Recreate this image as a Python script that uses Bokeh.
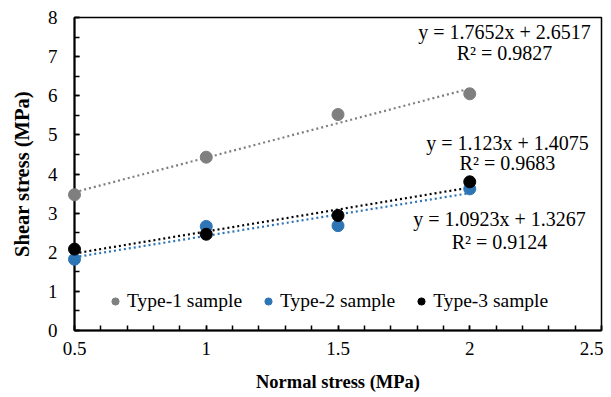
import numpy as np
from bokeh.plotting import figure
from bokeh.models import (Range1d, SingleIntervalTicker, Label, Legend, LegendItem)
from bokeh.embed import file_html
from bokeh.resources import INLINE

# ---- data ----
normal_stress = [0.5, 1.0, 1.5, 2.0]
type1 = [3.47, 4.43, 5.52, 6.05]
type2 = [1.82, 2.66, 2.68, 3.62]
type3 = [2.08, 2.46, 2.94, 3.80]

series_names = ["Type-1 sample", "Type-2 sample", "Type-3 sample"]
series_values = [type1, type2, type3]
series_colors = ["#7F7F7F", "#2E75B6", "#000000"]

# trendline equations as printed in the chart
slopes = [1.7652, 1.0923, 1.123]
intercepts = [2.6517, 1.3267, 1.4075]
r_squared = [0.9827, 0.9124, 0.9683]

FONT = "Liberation Serif"

p = figure(width=603, height=394, output_backend="svg", toolbar_location=None,
           x_range=Range1d(0.5, 2.5), y_range=Range1d(0, 8),
           min_border_left=74, min_border_right=2, min_border_top=17, min_border_bottom=10,
           background_fill_color="white", border_fill_color="white")

p.xgrid.visible = False
p.ygrid.visible = False
p.outline_line_color = "black"
p.outline_line_width = 1.5

p.xaxis.ticker = SingleIntervalTicker(interval=0.5, num_minor_ticks=5)
p.yaxis.ticker = SingleIntervalTicker(interval=1, num_minor_ticks=2)

for ax in (p.xaxis, p.yaxis):
    ax.axis_line_color = "black"
    ax.axis_line_width = 2
    ax.major_tick_line_color = "black"
    ax.minor_tick_line_color = "black"
    ax.major_tick_line_width = 1.5
    ax.minor_tick_line_width = 1.5
    ax.major_tick_in = 5
    ax.major_tick_out = 0
    ax.minor_tick_in = 5
    ax.minor_tick_out = 0
    ax.major_label_text_font = FONT
    ax.major_label_text_font_size = "19px"
    ax.major_label_text_color = "black"
    ax.axis_label_text_font = FONT
    ax.axis_label_text_font_style = "bold"
    ax.axis_label_text_color = "black"

p.xaxis.axis_label = "Normal stress (MPa)"
p.yaxis.axis_label = "Shear stress (MPa)"
p.xaxis.axis_label_text_font_size = "18.5px"
p.yaxis.axis_label_text_font_size = "20.5px"
p.xaxis.major_label_standoff = 11
p.xaxis.axis_label_standoff = 14
p.yaxis.major_label_standoff = 17
p.yaxis.axis_label_standoff = 12

x = np.array(normal_stress)
legend_items = []
for name, vals, col, m, b in zip(series_names, series_values, series_colors, slopes, intercepts):
    xs = [x.min(), x.max()]
    p.line(xs, [m * v + b for v in xs], line_color=col, line_width=2.2, line_dash="2 3")
    p.scatter(normal_stress, vals, size=12, fill_color=col, line_color=col, level="overlay")
    dummy = p.scatter([np.nan], [np.nan], size=12, fill_color=col, line_color=col)
    legend_items.append(LegendItem(label=name, renderers=[dummy]))

legend = Legend(items=legend_items, orientation="horizontal", location=(32, 18),
                border_line_color=None, background_fill_alpha=0,
                label_text_font=FONT, label_text_font_size="19.5px", label_text_color="black",
                glyph_width=18, glyph_height=18, label_standoff=3, spacing=17,
                padding=0, margin=0)
p.add_layout(legend, "center")

# equation labels (data-space placement)
label_pos = {  # series index: (x, y of equation line, y of R² line)
    0: (2.132, 7.62, 7.08),
    2: (2.143, 4.78, 4.27),
    1: (2.113, 2.84, 2.25),
}
for i, (lx, ly1, ly2) in label_pos.items():
    eq = f"y = {slopes[i]}x + {intercepts[i]}"
    r2 = f"R² = {r_squared[i]}"
    for txt, ly in ((eq, ly1), (r2, ly2)):
        p.add_layout(Label(x=lx, y=ly, text=txt, text_align="center", text_baseline="middle",
                           text_font=FONT, text_font_size="20px", text_color="black"))

open("out.html", "w").write(file_html(p, INLINE))
